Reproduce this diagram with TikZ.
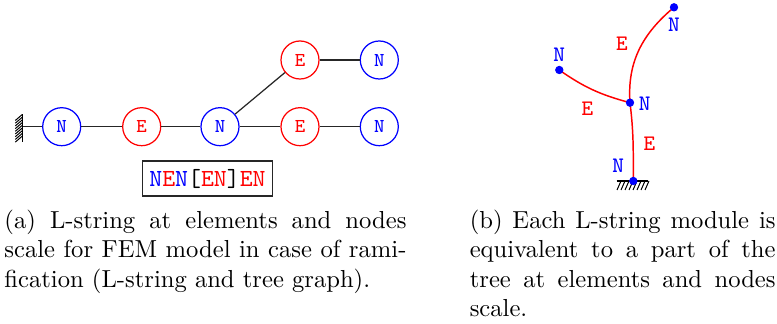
\documentclass[tikz,border=0pt]{standalone}
\begin{document}
\begin{tikzpicture}[x=0.4065pt,y=-0.4065pt,
  nd/.style={circle,draw=blue,text=blue,minimum size=15.45pt,inner sep=0pt,font=\footnotesize\ttfamily,line width=0.5pt},
  el/.style={nd,draw=red,text=red},
  conn/.style={line width=0.5pt,black!85},
  redc/.style={line width=0.6pt,red},
  dotn/.style={circle,fill=blue,inner sep=0pt,minimum size=3.4pt},
  blab/.style={text=blue,font=\small\ttfamily,inner sep=0pt},
  rlab/.style={text=red,font=\small\ttfamily,inner sep=0pt},
  capl/.style={anchor=base west,inner sep=0pt,font=\normalsize}]
\useasboundingbox (0,0) rectangle (777,324);
% ---- left: L-string graph ----
\node[nd] (n1) at (61.7,126.7) {N};
\node[el] (e1) at (141.7,126.7) {E};
\node[nd] (n2) at (220,126.7) {N};
\node[el] (e2) at (300,126.7) {E};
\node[nd] (n3) at (379.3,126.7) {N};
\node[el] (e3) at (300,60) {E};
\node[nd] (n4) at (379.3,60) {N};
\coordinate (wall) at (22.3,126.7);
\draw[conn] (wall) -- (n1);
\draw[conn] (n1) -- (e1);
\draw[conn] (e1) -- (n2);
\draw[conn] (n2) -- (e2);
\draw[conn] (e2) -- (n3);
\draw[conn] (n2) -- (e3);
\draw[conn] (e3) -- (n4);
\draw[line width=0.5pt] (22.3,114.3) -- (22.3,141.7);
\foreach \yy in {114.5,117.2,...,136.5}
  \draw[line width=0.4pt] (22.3,\yy) -- ++(-7,6);
\node[draw,line width=0.5pt,black!85,minimum width=52.7pt,minimum height=14.2pt,inner sep=0pt,font=\normalsize\ttfamily] (str) at (207.5,178.5)
  {\textcolor{blue}{N}\textcolor{red}{E}\textcolor{blue}{N}\textcolor{black}{[}\textcolor{red}{EN}\textcolor{black}{]}\textcolor{red}{EN}};
% ---- right: tree ----
\coordinate (c0) at (633.3,181);
\coordinate (c1) at (630,102.7);
\coordinate (c2) at (559.3,70);
\coordinate (c3) at (674,7.3);
\draw[redc] (c0) to[out=90,in=-83] (c1);
\draw[redc] (c1) to[out=94,in=220] (c3);
\draw[redc] (c2) to[out=-35,in=165] (c1);
\draw[line width=0.5pt] (616.7,181) -- (648.3,181);
\foreach \xx in {617,621,...,645}
  \draw[line width=0.4pt] (\xx,190) -- ++(4,-9);
\node[dotn] (d0) at (c0) {};
\node[dotn] (d1) at (c1) {};
\node[dotn] (d2) at (c2) {};
\node[dotn] (d3) at (c3) {};
\node[blab] (l3) at (674,25) {N};
\node[blab] (l1) at (644.7,103.7) {N};
\node[blab] (l2) at (559.3,55) {N};
\node[blab] (l0) at (618.3,165.7) {N};
\node[rlab] (eu) at (622,44.2) {E};
\node[rlab] (el) at (587.5,109) {E};
\node[rlab] (eb) at (649.5,143.3) {E};
% ---- captions ----
\node[capl] (ca1) at (4,228.5) {\hbox to 163.4pt{(a) L-string at elements and nodes}};
\node[capl] (ca2) at (4,258) {\hbox to 163.4pt{scale for FEM model in case of rami-}};
\node[capl] (ca3) at (4,287.5) {fication (L-string and tree graph).};
\node[capl] (cb1) at (469.3,228.5) {\hbox to 124.3pt{(b) Each L-string module is}};
\node[capl] (cb2) at (469.3,258) {\hbox to 124.3pt{equivalent to a part of the}};
\node[capl] (cb3) at (469.3,287.5) {\hbox to 124.3pt{tree at elements and nodes}};
\node[capl] (cb4) at (469.3,317) {scale.};
\end{tikzpicture}
\end{document}
